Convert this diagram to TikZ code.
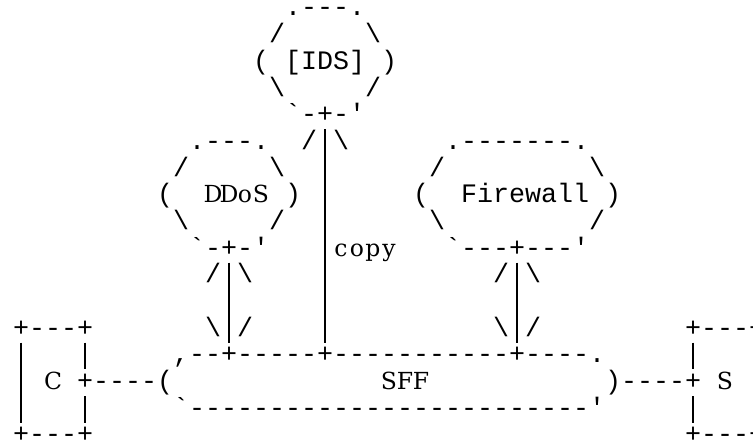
\documentclass[tikz,border=0pt]{standalone}
\usepackage{fontspec}
\setmonofont{Liberation Mono}
\newfontfamily\serifx{DejaVu Serif}
\tikzset{
  txt/.style={anchor=base west, inner sep=0pt, outer sep=0pt,
    font=\ttfamily\fontsize{26.67pt}{26.67pt}\selectfont},
  sch/.style={anchor=base, inner sep=0pt, outer sep=0pt,
    font=\serifx\fontsize{23.5pt}{23.5pt}\selectfont},
  bar/.style={line width=1.4pt, line cap=butt},
}
\newcommand\tx[4]{\node[txt] (#1) at ({13+16*#2},{-16-26.667*#3}) {#4};}
\newcommand\sr[4]{\node[sch] (#1) at ({21+16*#2},{-16-26.667*#3}) {#4};}
\newcommand\vln[4]{%
  \coordinate (#1a) at ({21+16*#2},{4-26.667*#3});
  \coordinate (#1b) at ({21+16*#2},{-22.5-26.667*#4});
  \draw[bar] (#1a) -- (#1b);}
\begin{document}
\begin{tikzpicture}[x=1pt,y=1pt]
\useasboundingbox (0,0) rectangle (753,-441);
\fill[white] (0,0) rectangle (753,-441);
\clip (0,0) rectangle (753,-441);
% IDS
\tx{idsT}{17}{0}{.---.}
\tx{idsL1}{16}{1}{/} \tx{idsR1}{22}{1}{\textbackslash}
\tx{idsL2}{15}{2}{(} \tx{ids}{17}{2}{[IDS]} \tx{idsR2}{23}{2}{)}
\tx{idsL3}{16}{3}{\textbackslash} \tx{idsR3}{22}{3}{/}
\tx{idsB}{17}{4}{`-+-'}
\tx{idsA1}{18}{5}{/} \tx{idsA2}{20}{5}{\textbackslash}
% DDoS
\tx{ddosT}{11}{5}{.---.}
\tx{ddosL1}{10}{6}{/} \tx{ddosR1}{16}{6}{\textbackslash}
\tx{ddosL2}{9}{7}{(}
\sr{dd1}{12}{7}{D} \sr{dd2}{13}{7}{D} \sr{dd3}{14}{7}{o} \sr{dd4}{15}{7}{S}
\tx{ddosR2}{17}{7}{)}
\tx{ddosL3}{10}{8}{\textbackslash} \tx{ddosR3}{16}{8}{/}
\tx{ddosB}{11}{9}{`-+-'}
\tx{ddA1}{12}{10}{/} \tx{ddA2}{14}{10}{\textbackslash}
\tx{ddA3}{12}{12}{\textbackslash} \tx{ddA4}{14}{12}{/}
% Firewall
\tx{fwT}{27}{5}{.-------.}
\tx{fwL1}{26}{6}{/} \tx{fwR1}{36}{6}{\textbackslash}
\tx{fwL2}{25}{7}{(} \tx{fw}{28}{7}{Firewall} \tx{fwR2}{37}{7}{)}
\tx{fwL3}{26}{8}{\textbackslash} \tx{fwR3}{36}{8}{/}
\tx{fwB}{27}{9}{`---+---'}
\tx{fwA1}{30}{10}{/} \tx{fwA2}{32}{10}{\textbackslash}
\tx{fwA3}{30}{12}{\textbackslash} \tx{fwA4}{32}{12}{/}
% copy label
\sr{cp1}{20}{9}{c} \sr{cp2}{21}{9}{o} \sr{cp3}{22}{9}{p} \sr{cp4}{23}{9}{y}
% C box
\tx{cT}{0}{12}{+---+}
\sr{c}{2}{14}{C} \tx{cl}{4}{14}{+----(}
\tx{cB}{0}{16}{+---+}
% SFF
\tx{sffT}{10}{13}{,--+-----+-----------+----.}
\sr{sf1}{23}{14}{S} \sr{sf2}{24}{14}{F} \sr{sf3}{25}{14}{F}
\tx{sffB}{10}{15}{`-------------------------'}
% S box
\tx{sT}{42}{12}{+---+}
\tx{sl}{37}{14}{)----+} \sr{s}{44}{14}{S}
\tx{sB}{42}{16}{+---+}
% vertical bars
\vln{idsline}{19}{5}{12}
\vln{ddline}{13}{10}{12}
\vln{fwline}{31}{10}{12}
\vln{cleft}{0}{13}{15}
\vln{crA}{4}{13}{13}
\vln{crB}{4}{15}{15}
\vln{slA}{42}{13}{13}
\vln{slB}{42}{15}{15}
\vln{sright}{46}{13}{15}
\end{tikzpicture}
\end{document}
